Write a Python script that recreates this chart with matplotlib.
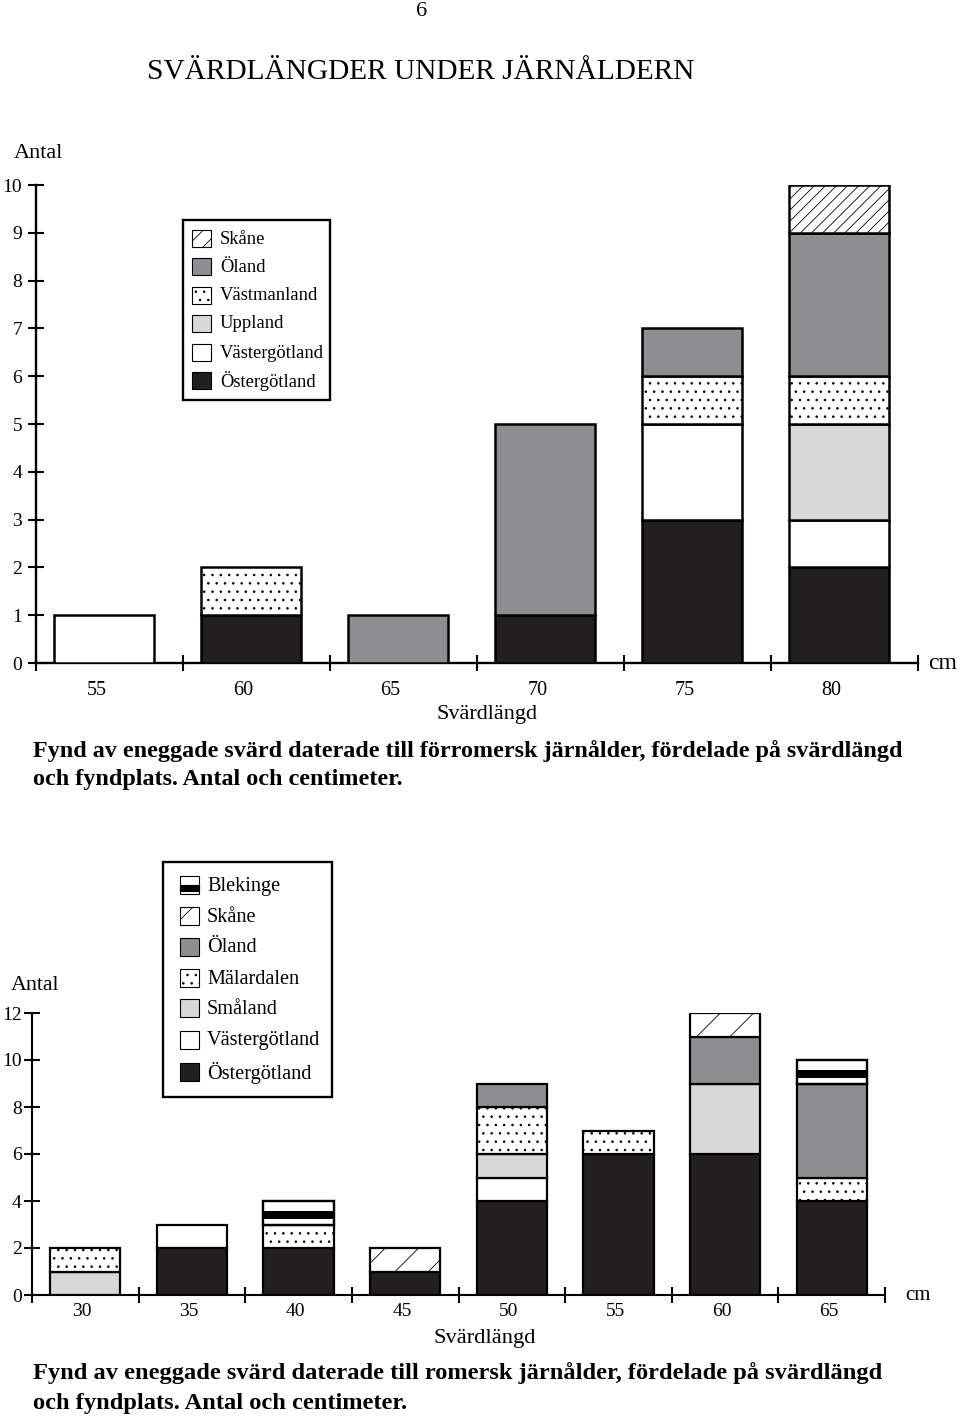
import matplotlib
matplotlib.use('Agg')
import matplotlib.pyplot as plt
from matplotlib.patches import Rectangle

plt.rcParams['font.family'] = ['Liberation Serif', 'DejaVu Serif']
plt.rcParams['hatch.linewidth'] = 0.6

# ---------------- data ----------------
top_lengths = [55, 60, 65, 70, 75, 80]
top_ost = [0, 1, 0, 1, 3, 2]   # Östergötland
top_vg = [1, 0, 0, 0, 2, 1]    # Västergötland
top_upp = [0, 0, 0, 0, 0, 2]   # Uppland
top_vm = [0, 1, 0, 0, 1, 1]    # Västmanland
top_ol = [0, 0, 1, 4, 1, 3]    # Öland
top_sk = [0, 0, 0, 0, 0, 1]    # Skåne
top_yticks = list(range(0, 11))

bot_lengths = [30, 35, 40, 45, 50, 55, 60, 65]
bot_ost = [0, 2, 2, 1, 4, 6, 6, 4]   # Östergötland
bot_vg = [0, 1, 0, 0, 1, 0, 0, 0]    # Västergötland
bot_sma = [1, 0, 0, 0, 1, 0, 3, 0]   # Småland
bot_mal = [1, 0, 1, 0, 2, 1, 0, 1]   # Mälardalen
bot_ol = [0, 0, 0, 0, 1, 0, 2, 4]    # Öland
bot_sk = [0, 0, 0, 1, 0, 0, 1, 0]    # Skåne
bot_ble = [0, 0, 1, 0, 0, 0, 0, 1]   # Blekinge
bot_yticks = [0, 2, 4, 6, 8, 10, 12]

BLACK = '#231f20'
GRAY = '#8e8e92'
LIGHT = '#d8d8d8'
WHITE = 'white'

STYLE = {
    'Östergötland': dict(fc=BLACK, hatch=None),
    'Västergötland': dict(fc=WHITE, hatch=None),
    'Uppland': dict(fc=LIGHT, hatch=None),
    'Småland': dict(fc=LIGHT, hatch=None),
    'Västmanland': dict(fc=WHITE, hatch='..'),
    'Mälardalen': dict(fc=WHITE, hatch='..'),
    'Öland': dict(fc=GRAY, hatch=None),
    'Skåne': dict(fc=WHITE, hatch='///'),
    'Blekinge': dict(fc=WHITE, hatch=None),
}

W, H = 960, 1418
fig = plt.figure(figsize=(W / 100, H / 100), dpi=100)


def fx(x):
    return x / W


def fy(y):
    return 1 - y / H


def add_axes_px(left, top, right, bottom):
    return fig.add_axes([fx(left), fy(bottom), (right - left) / W, (bottom - top) / H])


def style_axes(ax, lw=1.5):
    for s in ['top', 'right']:
        ax.spines[s].set_visible(False)
    for s in ['left', 'bottom']:
        ax.spines[s].set_linewidth(lw)
        ax.spines[s].set_color('black')
    ax.set_facecolor('none')


def stack(ax, xs, layers, width, lw, skane_hatch):
    bottoms = [0] * len(xs)
    for name, vals in layers:
        st = STYLE[name]
        hatch = st['hatch']
        if name == 'Skåne':
            hatch = skane_hatch
        for i, (x, v) in enumerate(zip(xs, vals)):
            if v <= 0:
                continue
            ax.bar(x, v, width=width, bottom=bottoms[i], color=st['fc'],
                   edgecolor='black', linewidth=lw, hatch=hatch, zorder=3)
            if name == 'Blekinge':
                ax.bar(x, 0.35 * v, width=width, bottom=bottoms[i] + 0.22 * v,
                       color='black', linewidth=0, zorder=4)
                ax.bar(x, v, width=width, bottom=bottoms[i], color='none',
                       edgecolor='black', linewidth=lw, zorder=5)
            bottoms[i] += v


# ---------------- header ----------------
fig.text(fx(422), fy(11), '6', ha='center', va='center', fontsize=16)
fig.text(fx(421), fy(72), 'SVÄRDLÄNGDER UNDER JÄRNÅLDERN', ha='center', va='center', fontsize=21.2)

# ---------------- top chart ----------------
ax1 = add_axes_px(36, 185, 918, 663)
style_axes(ax1, lw=1.7)
ax1.set_xlim(52.5, 82.5)
ax1.set_ylim(0, 10)
ax1.set_xticks([52.5 + 5 * i for i in range(7)])
ax1.set_xticklabels([])
ax1.tick_params(axis='x', which='major', direction='inout', length=12, width=1.5)
ax1.set_xticks([v - 0.45 for v in top_lengths], minor=True)
ax1.set_xticklabels([str(v) for v in top_lengths], minor=True, fontsize=14.5)
ax1.tick_params(axis='x', which='minor', length=0, pad=13)
ax1.set_yticks(top_yticks)
ax1.set_yticklabels([str(v) for v in top_yticks], fontsize=14)
ax1.tick_params(axis='y', direction='inout', length=12, width=1.5, pad=4)

top_x = [v - 0.2 for v in top_lengths]
stack(ax1, top_x, [('Östergötland', top_ost), ('Västergötland', top_vg),
                   ('Uppland', top_upp), ('Västmanland', top_vm),
                   ('Öland', top_ol), ('Skåne', top_sk)], 3.4, 1.8, '///')

fig.text(fx(38), fy(153), 'Antal', ha='center', va='center', fontsize=16)
fig.text(fx(943), fy(663), 'cm', ha='center', va='center', fontsize=17)
fig.text(fx(487), fy(715), 'Svärdlängd', ha='center', va='center', fontsize=16)
fig.text(fx(33), fy(751), 'Fynd av eneggade svärd daterade till förromersk järnålder, fördelade på svärdlängd',
         ha='left', va='center', fontsize=17.4, fontweight='bold')
fig.text(fx(33), fy(780), 'och fyndplats. Antal och centimeter.',
         ha='left', va='center', fontsize=17.4, fontweight='bold')

# top legend
fig.add_artist(Rectangle((fx(183), fy(400)), (330 - 183) / W, (400 - 220) / H,
                         transform=fig.transFigure, fc='white', ec='black', lw=1.7))
top_leg = ['Skåne', 'Öland', 'Västmanland', 'Uppland', 'Västergötland', 'Östergötland']
top_leg_y = [238, 266, 295, 323, 352, 380]
for name, y in zip(top_leg, top_leg_y):
    st = STYLE[name]
    hatch = '//' if name == 'Skåne' else st['hatch']
    fig.add_artist(Rectangle((fx(192), fy(y + 8.5)), 19 / W, 17 / H, transform=fig.transFigure,
                             fc=st['fc'], ec='black', lw=0.8, hatch=hatch))
    fig.text(fx(220), fy(y + 1), name, ha='left', va='center', fontsize=13.4)

# ---------------- bottom chart ----------------
ax2 = add_axes_px(32, 1013, 885, 1295)
style_axes(ax2)
ax2.set_xlim(27.5, 67.5)
ax2.set_ylim(0, 12)
ax2.set_xticks([27.5 + 5 * i for i in range(9)])
ax2.set_xticklabels([])
ax2.tick_params(axis='x', which='major', direction='inout', length=11, width=1.5)
ax2.set_xticks([v - 0.15 for v in bot_lengths], minor=True)
ax2.set_xticklabels([str(v) for v in bot_lengths], minor=True, fontsize=14)
ax2.tick_params(axis='x', which='minor', length=0, pad=6)
ax2.set_yticks(bot_yticks)
ax2.set_yticklabels([str(v) for v in bot_yticks], fontsize=14)
ax2.tick_params(axis='y', direction='inout', length=11, width=1.5, pad=2)

stack(ax2, bot_lengths, [('Östergötland', bot_ost), ('Västergötland', bot_vg),
                         ('Småland', bot_sma), ('Mälardalen', bot_mal),
                         ('Öland', bot_ol), ('Skåne', bot_sk), ('Blekinge', bot_ble)],
      3.3, 1.6, '/')

fig.text(fx(35), fy(985), 'Antal', ha='center', va='center', fontsize=15.8)
fig.text(fx(918), fy(1295), 'cm', ha='center', va='center', fontsize=15)
fig.text(fx(485), fy(1338), 'Svärdlängd', ha='center', va='center', fontsize=16.2)
fig.text(fx(33), fy(1373), 'Fynd av eneggade svärd daterade till romersk järnålder, fördelade på svärdlängd',
         ha='left', va='center', fontsize=17.6, fontweight='bold')
fig.text(fx(33), fy(1403), 'och fyndplats. Antal och centimeter.',
         ha='left', va='center', fontsize=17.6, fontweight='bold')

# bottom legend
fig.add_artist(Rectangle((fx(163), fy(1097)), (332 - 163) / W, (1097 - 862) / H,
                         transform=fig.transFigure, fc='white', ec='black', lw=1.7))
bot_leg = ['Blekinge', 'Skåne', 'Öland', 'Mälardalen', 'Småland', 'Västergötland', 'Östergötland']
bot_leg_y = [885, 916, 947, 978, 1008, 1040, 1072]
for name, y in zip(bot_leg, bot_leg_y):
    st = STYLE[name]
    hatch = '/' if name == 'Skåne' else st['hatch']
    fig.add_artist(Rectangle((fx(180), fy(y + 9)), 19 / W, 18 / H, transform=fig.transFigure,
                             fc=st['fc'], ec='black', lw=0.8, hatch=hatch))
    if name == 'Blekinge':
        fig.add_artist(Rectangle((fx(180), fy(y + 6)), 19 / W, 6 / H, transform=fig.transFigure,
                                 fc='black', ec='black', lw=0.8))
    fig.text(fx(207), fy(y + 1), name, ha='left', va='center', fontsize=14.6)

fig.savefig('out.png', dpi=100)
